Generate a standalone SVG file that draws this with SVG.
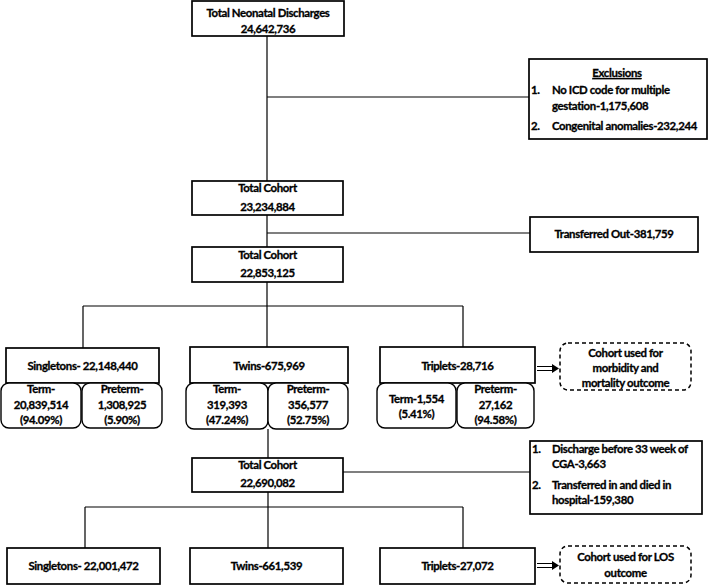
<svg xmlns="http://www.w3.org/2000/svg" width="709" height="586" viewBox="0 0 709 586">
<style>
text{font-family:Lato,"Liberation Sans",sans-serif;font-weight:bold;font-size:11.4px;letter-spacing:-0.35px;fill:#000;stroke:#000;stroke-width:0.3}
.c{text-anchor:middle}
.box{fill:#fff;stroke:#000;stroke-width:1.7}
.rbox{fill:#fff;stroke:#000;stroke-width:1.4}
.dash{fill:#fff;stroke:#000;stroke-width:1.5;stroke-dasharray:4 3}
.ln{stroke:#000;stroke-width:1.2;fill:none}
</style>
<rect width="709" height="586" fill="#fff"/>
<g id="connectors">
<path class="ln" d="M267 36V181M267 97H529M267 215V247M267 233H530M267 282V306M83 306H463M83 306V348M267 306V347M463 306V347M268 429V458M343 472H530M268 492V548M85 507H463M85 507V548M463 507V548"/>
<g id="arrow1"><path class="ln" d="M537 366.5H554M537 370.5H554"/><path d="M552 364L559 368.5L552 373Z" fill="#000"/></g>
<g id="arrow2"><path class="ln" d="M537 563.5H554M537 567.5H554"/><path d="M552 561L559 565.5L552 570Z" fill="#000"/></g>
</g>
<g id="n-top"><rect class="box" x="192" y="1" width="152" height="35"/><text class="c" x="268" y="17">Total Neonatal Discharges</text><text class="c" x="268" y="33">24,642,736</text></g>
<g id="n-excl"><rect class="box" x="529" y="59" width="178" height="80"/>
<text class="c" x="617" y="77" text-decoration="underline">Exclusions</text>
<text x="531" y="94">1.</text><text x="552" y="94">No ICD code for multiple</text>
<text x="552" y="110">gestation-1,175,608</text>
<text x="531" y="130">2.</text><text x="552" y="130">Congenital anomalies-232,244</text></g>
<g id="n-tc1"><rect class="box" x="192" y="181" width="151" height="34"/><text class="c" x="267.5" y="192">Total Cohort</text><text class="c" x="267.5" y="211">23,234,884</text></g>
<g id="n-transfer"><rect class="box" x="530" y="217" width="168" height="35"/><text class="c" x="614" y="238">Transferred Out-381,759</text></g>
<g id="n-tc2"><rect class="box" x="192" y="247" width="151" height="35"/><text class="c" x="267.5" y="259">Total Cohort</text><text class="c" x="267.5" y="277">22,853,125</text></g>
<g id="n-single"><rect class="box" x="6" y="348" width="153" height="35"/><text class="c" x="82.5" y="370">Singletons- 22,148,440</text>
<rect class="rbox" x="1" y="383" width="80" height="45" rx="8"/><text class="c" x="41" y="393">Term-</text><text class="c" x="41" y="409">20,839,514</text><text class="c" x="41" y="424">(94.09%)</text>
<rect class="rbox" x="82" y="383" width="80" height="45" rx="8"/><text class="c" x="122" y="393">Preterm-</text><text class="c" x="122" y="409">1,308,925</text><text class="c" x="122" y="424">(5.90%)</text></g>
<g id="n-twins"><rect class="box" x="190" y="347" width="158" height="36"/><text class="c" x="269" y="370">Twins-675,969</text>
<rect class="rbox" x="186" y="383" width="82" height="46" rx="8"/><text class="c" x="227" y="393">Term-</text><text class="c" x="227" y="409">319,393</text><text class="c" x="227" y="424">(47.24%)</text>
<rect class="rbox" x="268" y="383" width="80" height="46" rx="8"/><text class="c" x="308" y="393">Preterm-</text><text class="c" x="308" y="409">356,577</text><text class="c" x="308" y="424">(52.75%)</text></g>
<g id="n-triplets"><rect class="box" x="380" y="347" width="155" height="36"/><text class="c" x="457.5" y="370">Triplets-28,716</text>
<rect class="rbox" x="377" y="383" width="79" height="45" rx="8"/><text class="c" x="416.5" y="403">Term-1,554</text><text class="c" x="416.5" y="418">(5.41%)</text>
<rect class="rbox" x="457" y="383" width="77" height="45" rx="8"/><text class="c" x="495.5" y="393">Preterm-</text><text class="c" x="495.5" y="409">27,162</text><text class="c" x="495.5" y="424">(94.58%)</text></g>
<g id="n-morb"><rect class="dash" x="560" y="343" width="131" height="47" rx="8"/><text class="c" x="625.5" y="357">Cohort used for</text><text class="c" x="625.5" y="372">morbidity and</text><text class="c" x="625.5" y="387">mortality outcome</text></g>
<g id="n-tc3"><rect class="box" x="192" y="458" width="151" height="34"/><text class="c" x="267.5" y="469">Total Cohort</text><text class="c" x="267.5" y="487">22,690,082</text></g>
<g id="n-excl2"><rect class="box" x="530" y="441" width="172" height="73"/>
<text x="532" y="453">1.</text><text x="552" y="453">Discharge before 33 week of</text>
<text x="552" y="468">CGA-3,663</text>
<text x="532" y="489">2.</text><text x="552" y="489">Transferred in and died in</text>
<text x="552" y="504">hospital-159,380</text></g>
<g id="n-single2"><rect class="box" x="7" y="548" width="153" height="36"/><text class="c" x="83.5" y="570">Singletons- 22,001,472</text></g>
<g id="n-twins2"><rect class="box" x="190" y="548" width="153" height="36"/><text class="c" x="266.5" y="570">Twins-661,539</text></g>
<g id="n-triplets2"><rect class="box" x="380" y="548" width="155" height="36"/><text class="c" x="457.5" y="570">Triplets-27,072</text></g>
<g id="n-los"><rect class="dash" x="560" y="546" width="131" height="37" rx="8"/><text class="c" x="625.5" y="561">Cohort used for LOS</text><text class="c" x="625.5" y="577">outcome</text></g>
</svg>
